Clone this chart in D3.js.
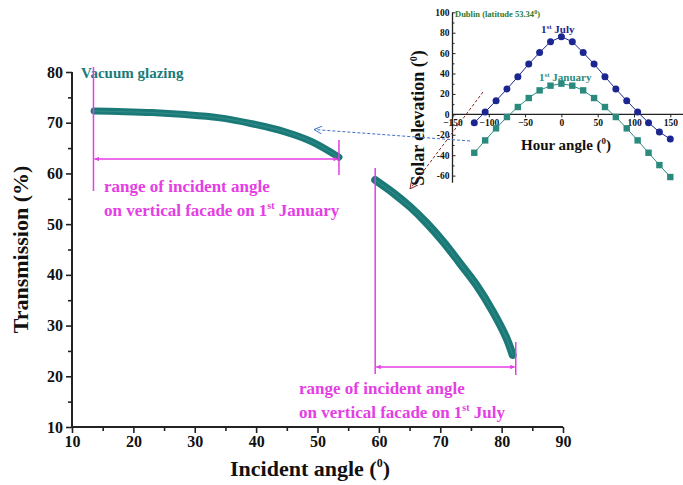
<!DOCTYPE html>
<html>
<head>
<meta charset="utf-8">
<script src="https://cdn.jsdelivr.net/npm/d3@7"></script>
<style>
  body { margin: 0; background: #fff; }
  svg { display: block; }
  text { font-family: "Liberation Serif", "Times New Roman", serif; font-weight: bold; }
</style>
</head>
<body>
<svg id="chart" width="683" height="485"></svg>
<script>
// Transmission of vacuum glazing vs incident angle
const winterAngle = [13.6, 17.5, 23.0, 28.4, 33.8, 39.3, 44.7, 49.0, 53.5];
const winterTrans = [72.3, 72.2, 72.0, 71.6, 71.0, 69.8, 68.2, 66.3, 63.2];
const summerAngle = [59.4, 62.4, 65.1, 67.8, 70.5, 73.2, 75.9, 78.6, 80.8, 81.8];
const summerTrans = [58.7, 56.1, 53.4, 50.2, 46.5, 42.3, 38.0, 32.7, 27.5, 24.2];
const mainXTicks = [10, 20, 30, 40, 50, 60, 70, 80, 90];
const mainYTicks = [10, 20, 30, 40, 50, 60, 70, 80];

// Solar elevation in Dublin (inset)
const hourAngle = [-120, -105, -90, -75, -60, -45, -30, -15, 0, 15, 30, 45, 60, 75, 90, 105, 120, 135, 150];
const julyElev = [-8.2, 2.3, 13.4, 24.8, 36.9, 49.3, 60.5, 71.2, 76.1, 71.2, 60.5, 49.3, 36.9, 24.8, 13.4, 2.3, -8.2, -17.3, -24.2];
const janElev = [-37.6, -25.5, -13.7, -2.6, 7.2, 16.0, 23.5, 28.1, 30.1, 28.1, 23.5, 16.0, 7.2, -2.6, -13.7, -25.5, -37.6, -49.7, -61.4];
const insetXTicks = [-150, -100, -50, 0, 50, 100, 150];
const insetYTicks = [-60, -40, -20, 0, 20, 40, 60, 80, 100];

const svg = d3.select("#chart");
const MAGENTA = "#e43ee4";
const TEAL = "#1b7a77";
const NAVY = "#1c2690";
const JANC = "#2a8a7e";

const defs = svg.append("defs");
function arrowMarker(id, color, w, h) {
  defs.append("marker").attr("id", id)
    .attr("viewBox", "0 0 10 10").attr("refX", 10).attr("refY", 5)
    .attr("markerWidth", w).attr("markerHeight", h)
    .attr("orient", "auto-start-reverse")
    .append("path").attr("d", "M0,0 L10,5 L0,10 Z").attr("fill", color);
}
arrowMarker("magArrow", MAGENTA, 4, 3);
function openMarker(id, color) {
  defs.append("marker").attr("id", id)
    .attr("viewBox", "0 0 10 10").attr("refX", 10).attr("refY", 5)
    .attr("markerWidth", 8).attr("markerHeight", 8).attr("markerUnits", "userSpaceOnUse")
    .attr("orient", "auto")
    .append("path").attr("d", "M0,0 L10,5 L0,10").attr("fill", "none")
    .attr("stroke", color).attr("stroke-width", 1.2);
}
openMarker("blueArrow", "#3f6fc4");
openMarker("redArrow", "#8c2626");

// ---------- main chart ----------
const x = d3.scaleLinear().domain([10, 90]).range([72, 563]);
const y = d3.scaleLinear().domain([10, 80]).range([427, 72]);

const xAxis = svg.append("g").attr("transform", `translate(0,${y(10)})`)
  .call(d3.axisBottom(x).tickValues(mainXTicks).tickSize(6).tickPadding(3).tickFormat(d3.format("d")));
svg.append("g").attr("transform", `translate(0,${y(10)})`)
  .call(d3.axisBottom(x).tickValues(d3.range(15, 90, 10)).tickSize(4).tickFormat(""))
  .select(".domain").remove();
const yAxis = svg.append("g").attr("transform", `translate(${x(10)},0)`)
  .call(d3.axisLeft(y).tickValues(mainYTicks).tickSize(6).tickPadding(3).tickFormat(d3.format("d")));
svg.append("g").attr("transform", `translate(${x(10)},0)`)
  .call(d3.axisLeft(y).tickValues(d3.range(15, 80, 10)).tickSize(4).tickFormat(""))
  .select(".domain").remove();
svg.selectAll(".domain").attr("stroke", "#222").attr("stroke-width", 2);
svg.selectAll(".tick line").attr("stroke", "#222").attr("stroke-width", 1.6);
xAxis.selectAll("text").attr("font-size", 16).attr("fill", "#111");
yAxis.selectAll("text").attr("font-size", 16).attr("fill", "#111");
xAxis.select(".domain").attr("d", `M${x(10)},0H${x(90)}`);
yAxis.select(".domain").attr("d", `M0,${y(10)}V${y(80)}`);

// axis titles
const xt = svg.append("text").attr("x", 310).attr("y", 476).attr("text-anchor", "middle")
  .attr("font-size", 22).attr("fill", "#111");
xt.append("tspan").text("Incident angle (");
xt.append("tspan").attr("font-size", 12).attr("dy", -9).text("0");
xt.append("tspan").attr("dy", 9).text(")");
svg.append("text").attr("transform", `translate(28,${y(45)}) rotate(-90)`)
  .attr("text-anchor", "middle").attr("font-size", 22).attr("fill", "#111")
  .text("Transmission (%)");

// transmission curves drawn as a thick band
const line = d3.line().x(d => x(d[0])).y(d => y(d[1])).curve(d3.curveCatmullRom.alpha(0.5));
const winter = winterAngle.map((a, i) => [a, winterTrans[i]]);
const summer = summerAngle.map((a, i) => [a, summerTrans[i]]);
[[winter, 7], [summer, 8]].forEach(([data, w]) => {
  svg.append("path").datum(data).attr("d", line).attr("fill", "none")
    .attr("stroke", TEAL).attr("stroke-width", w).attr("stroke-linecap", "round");
  svg.append("path").datum(data).attr("d", line).attr("fill", "none")
    .attr("stroke", "#3f9a96").attr("stroke-width", 1).attr("opacity", 0.6);
});

svg.append("text").attr("x", 81).attr("y", 78).attr("font-size", 15).attr("fill", TEAL)
  .text("Vacuum glazing");

// incident-angle range annotations
function rangeMark(a0, a1, yArrow, yTop0, yBot0, yTop1, yBot1) {
  svg.append("line").attr("x1", x(a0)).attr("x2", x(a0)).attr("y1", yTop0).attr("y2", yBot0)
    .attr("stroke", MAGENTA).attr("stroke-width", 1.5);
  svg.append("line").attr("x1", x(a1)).attr("x2", x(a1)).attr("y1", yTop1).attr("y2", yBot1)
    .attr("stroke", MAGENTA).attr("stroke-width", 1.5);
  svg.append("line").attr("x1", x(a0) + 1).attr("x2", x(a1) - 1).attr("y1", yArrow).attr("y2", yArrow)
    .attr("stroke", MAGENTA).attr("stroke-width", 1.5)
    .attr("marker-start", "url(#magArrow)").attr("marker-end", "url(#magArrow)");
}
rangeMark(winterAngle[0] - 0.1, winterAngle[winterAngle.length - 1], 159, 67, 191, 140, 175);
rangeMark(summerAngle[0], 82.3, 367, 168, 374, 342, 375);

function rangeText(tx, ty, month) {
  svg.append("text").attr("x", tx).attr("y", ty).attr("font-size", 17).attr("fill", MAGENTA)
    .text("range of incident angle");
  const t = svg.append("text").attr("x", tx).attr("y", ty + 24).attr("font-size", 17).attr("fill", MAGENTA);
  t.append("tspan").text("on vertical facade on 1");
  t.append("tspan").attr("font-size", 10).attr("dy", -7).text("st");
  t.append("tspan").attr("dy", 7).text(" " + month);
}
rangeText(104, 192, "January");
rangeText(299, 394, "July");

// ---------- inset: solar elevation ----------
const ix = d3.scaleLinear().domain([-150, 150]).range([452.5, 670.3]);
const iy = d3.scaleLinear().domain([-60, 100]).range([175.6, 12.3]);
const inset = svg.append("g");

const ixAxis = inset.append("g").attr("transform", `translate(0,${iy(0)})`)
  .call(d3.axisBottom(ix).tickValues(insetXTicks).tickSize(3).tickPadding(2).tickFormat(d3.format("d")));
ixAxis.select(".domain").attr("d", `M${ix(-150)},0H683`);
const iyAxis = inset.append("g").attr("transform", `translate(${ix(-150)},0)`)
  .call(d3.axisRight(iy).tickValues(insetYTicks).tickSize(3).tickFormat(""));
iyAxis.select(".domain").attr("d", `M0,${iy(-67)}V${iy(100)}`);
inset.append("g").attr("transform", `translate(${ix(-150)},0)`)
  .call(d3.axisRight(iy).tickValues(d3.range(-50, 100, 20)).tickSize(2).tickFormat(""))
  .select(".domain").remove();
inset.selectAll(".domain").attr("stroke", "#222").attr("stroke-width", 1.3);
inset.selectAll(".tick line").attr("stroke", "#222").attr("stroke-width", 1);
ixAxis.selectAll("text").attr("font-size", 9.5).attr("fill", "#111");
insetYTicks.forEach(v => {
  inset.append("text").attr("x", ix(-150) - 3).attr("y", iy(v) + 3.5)
    .attr("text-anchor", "end").attr("font-size", 9.5).attr("fill", "#111").text(v);
});

const hx = inset.append("text").attr("x", 566).attr("y", 150).attr("text-anchor", "middle")
  .attr("font-size", 15).attr("fill", "#111");
hx.append("tspan").text("Hour angle (");
hx.append("tspan").attr("font-size", 9).attr("dy", -6).text("0");
hx.append("tspan").attr("dy", 6).text(")");
const sy = inset.append("text").attr("transform", "translate(424,118) rotate(-90)")
  .attr("text-anchor", "middle").attr("font-size", 18).attr("fill", "#111");
sy.append("tspan").text("Solar elevation  (");
sy.append("tspan").attr("font-size", 10).attr("dy", -7).text("0");
sy.append("tspan").attr("dy", 7).text(")");

const dub = inset.append("text").attr("x", 455).attr("y", 17).attr("font-size", 8.5).attr("fill", "#2e7a33");
dub.append("tspan").text("Dublin (latitude 53.34");
dub.append("tspan").attr("font-size", 6).attr("dy", -3).text("0");
dub.append("tspan").attr("dy", 3).text(")");

const jl = inset.append("text").attr("x", 541).attr("y", 33).attr("font-size", 11).attr("fill", NAVY);
jl.append("tspan").text("1");
jl.append("tspan").attr("font-size", 7).attr("dy", -4).text("st");
jl.append("tspan").attr("dy", 4).text(" July");
const jn = inset.append("text").attr("x", 539).attr("y", 81).attr("font-size", 11).attr("fill", JANC);
jn.append("tspan").text("1");
jn.append("tspan").attr("font-size", 7).attr("dy", -4).text("st");
jn.append("tspan").attr("dy", 4).text(" January");

const iline = d3.line().x((d, i) => ix(hourAngle[i])).y(d => iy(d));
inset.append("path").datum(janElev).attr("d", iline).attr("fill", "none")
  .attr("stroke", JANC).attr("stroke-width", 1);
inset.append("path").datum(julyElev).attr("d", iline).attr("fill", "none")
  .attr("stroke", NAVY).attr("stroke-width", 1);
inset.selectAll(".jan").data(janElev).enter().append("rect")
  .attr("x", (d, i) => ix(hourAngle[i]) - 3.2).attr("y", d => iy(d) - 3.2)
  .attr("width", 6.4).attr("height", 6.4).attr("fill", JANC);
inset.selectAll(".jul").data(julyElev).enter().append("circle")
  .attr("cx", (d, i) => ix(hourAngle[i])).attr("cy", d => iy(d)).attr("r", 3.5).attr("fill", NAVY);

// connector arrows
svg.append("line").attr("x1", 470).attr("y1", 141).attr("x2", 314).attr("y2", 129.5)
  .attr("stroke", "#3f6fc4").attr("stroke-width", 1).attr("stroke-dasharray", "3,2")
  .attr("marker-end", "url(#blueArrow)");
svg.append("line").attr("x1", 483).attr("y1", 92).attr("x2", 410).attr("y2", 189)
  .attr("stroke", "#8c2626").attr("stroke-width", 1).attr("stroke-dasharray", "3,2")
  .attr("marker-end", "url(#redArrow)");
</script>
</body>
</html>
